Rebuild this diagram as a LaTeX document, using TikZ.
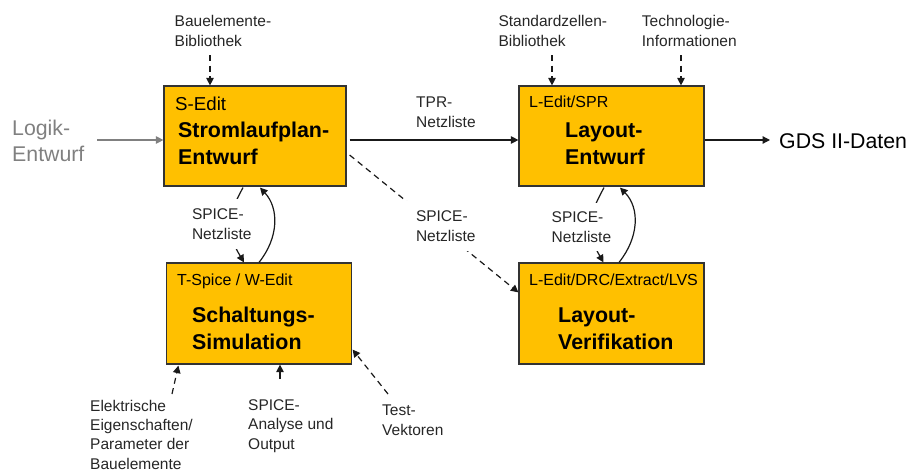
\documentclass[tikz,border=0pt]{standalone}
\usepackage{fontspec}
\setmainfont{Liberation Sans}
\usetikzlibrary{arrows.meta,calc}
\definecolor{boxorange}{HTML}{FFC000}
\tikzset{
  flowbox/.style={draw=black!80, fill=boxorange, line width=1.2pt, inner sep=0pt},
  smalltext/.style={anchor=base west, align=left, inner sep=0pt, text=black!85, font=\fontsize{15.5}{19.2}\selectfont},
  tooltext/.style={anchor=base west, inner sep=0pt, font=\fontsize{16}{19}\selectfont},
  headtext/.style={anchor=base west, align=left, inner sep=0pt, font=\fontsize{21.4}{26.3}\selectfont\bfseries},
  bigtext/.style={anchor=base west, align=left, inner sep=0pt, font=\fontsize{21.3}{26}\selectfont},
  maskedtext/.style={smalltext, fill=white, outer sep=0pt},
  link/.style={-{Triangle[length=7.5pt,width=7.5pt]}, line width=1.2pt, black!90},
  dashlink/.style={link, dash pattern=on 6pt off 4.5pt},
}
\begin{document}
\begin{tikzpicture}[x=1pt,y=-1pt]
\useasboundingbox (0,0) rectangle (910,471);
% boxes
\node[flowbox, minimum width=182pt, minimum height=100pt] (sedit) at (255,136) {};
\node[flowbox, minimum width=185pt, minimum height=100pt] (ledit) at (611.5,136) {};
\node[flowbox, minimum width=185pt, minimum height=101pt] (tspice) at (259,313.5) {};
\node[flowbox, minimum width=185pt, minimum height=101pt] (lverif) at (611.5,313.5) {};
% text inside the boxes
\node[tooltext, font=\fontsize{18.7}{22}\selectfont] (seditname) at (175,110) {S-Edit};
\node[headtext] (sedithead) at (178,164) {Stromlaufplan-\\Entwurf};
\node[tooltext] (leditname) at (529,107) {L-Edit/SPR};
\node[headtext] (ledithead) at (565,164) {Layout-\\Entwurf};
\node[tooltext] (tspicename) at (177,285) {T-Spice / W-Edit};
\node[headtext] (tspicehead) at (192,349) {Schaltungs-\\Simulation};
\node[tooltext] (lverifname) at (529,285) {L-Edit/DRC/Extract/LVS};
\node[headtext] (lverifhead) at (558,349) {Layout-\\Verifikation};
% outer labels
\node[bigtext, text=black!50] (logik) at (12,161) {Logik-\\Entwurf};
\node[bigtext] (gds) at (779,148) {GDS II-Daten};
\node[smalltext] (baulib) at (174.5,46) {Bauelemente-\\Bibliothek};
\node[smalltext] (stdlib) at (498.3,46) {Standardzellen-\\Bibliothek};
\node[smalltext] (techinfo) at (641.7,46) {Technologie-\\Informationen};
\node[smalltext] (tpr) at (416,127) {TPR-\\Netzliste};
\node[smalltext] (elektr) at (90,469) {Elektrische\\Eigenschaften/\\Parameter der\\Bauelemente};
\node[smalltext] (analyse) at (248,449) {SPICE-\\Analyse und\\Output};
\node[smalltext] (testvec) at (382,435) {Test-\\Vektoren};
% free ends
\coordinate (logikend) at (97,140);
\coordinate (gdsend) at (770,140);
\coordinate (baustart) at (210,55);
\coordinate (stdstart) at (552,55);
\coordinate (techstart) at (681,55);
\coordinate (elektrstart) at (172,394);
\coordinate (analysestart) at (280,379);
\coordinate (teststart) at (388,394);
% connectors
\draw[link, black!50] (logikend) -- (logikend -| sedit.west);
\draw[link] ($(sedit.east)+(3,4)$) -- ($(ledit.west)+(0,4)$);
\draw[link] ($(ledit.east)+(0,4)$) -- (gdsend);
\draw[dashlink] (baustart) -- (baustart |- sedit.north);
\draw[dashlink] (stdstart) -- (stdstart |- ledit.north);
\draw[dashlink] (techstart) -- (techstart |- ledit.north);
\draw[link] ($(sedit.south)+(-12,1)$) .. controls +(-18,33) and (226,232) .. ($(tspice.north)+(-15,0)$);
\draw[link] ($(tspice.north)+(0,0)$) .. controls +(20,-25) and (279,208) .. ($(sedit.south)+(5,1)$);
\draw[link] ($(ledit.south)+(-7.5,1)$) .. controls +(-18,33) and (586,232) .. ($(lverif.north)+(-8,0)$);
\draw[link] ($(lverif.north)+(7.5,0)$) .. controls +(20,-25) and (640,208) .. ($(ledit.south)+(8.5,1)$);
\draw[dashlink] ($(sedit.east)+(3,19)$) -- ($(lverif.north west)+(0,30)$);
\draw[dashlink] (elektrstart) -- ($(tspice.south west)+(12.5,1)$);
\draw[link] (analysestart) -- (analysestart |- tspice.south);
\draw[dashlink] (teststart) -- ($(tspice.south east)+(0.5,-15)$);
% labels on top of their connectors
\node[maskedtext, inner xsep=7pt, inner ysep=10pt] (spiceleft) at (185,239) {SPICE-\\Netzliste};
\node[maskedtext, inner xsep=10pt, inner ysep=10pt] (spicemid) at (406,241) {SPICE-\\Netzliste};
\node[maskedtext, inner xsep=5pt, inner ysep=9pt] (spiceright) at (546.7,242) {SPICE-\\Netzliste};
\end{tikzpicture}
\end{document}
